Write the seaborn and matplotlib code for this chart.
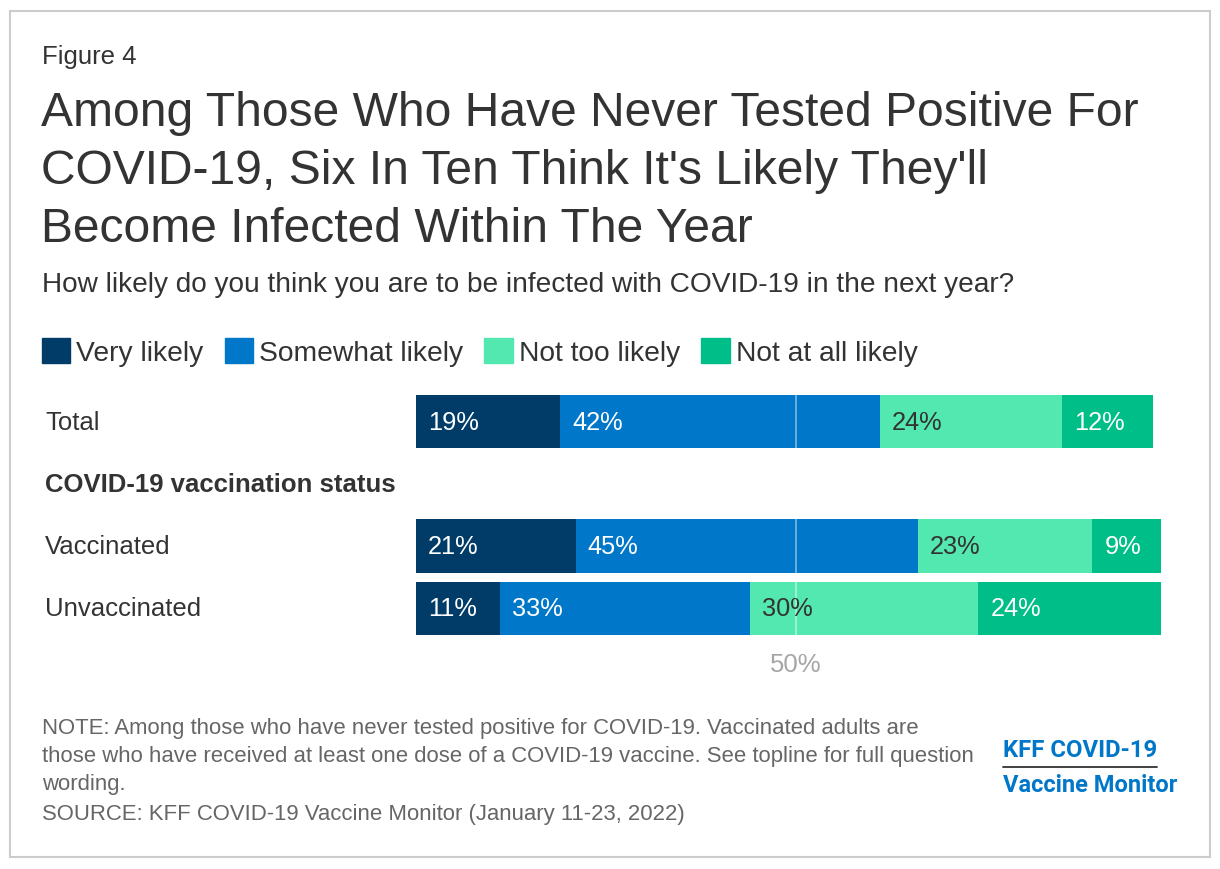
import numpy as np
import pandas as pd
import matplotlib
matplotlib.use('Agg')
import matplotlib.pyplot as plt
import matplotlib.patches as mpatches
import matplotlib.transforms as mtransforms
import seaborn as sns

groups = ['Total', 'COVID-19 vaccination status', 'Vaccinated', 'Unvaccinated']
responses = ['Very likely', 'Somewhat likely', 'Not too likely', 'Not at all likely']
very_likely = [19, 21, 11]
somewhat_likely = [42, 45, 33]
not_too_likely = [24, 23, 30]
not_at_all_likely = [12, 9, 24]
bar_groups = ['Total', 'Vaccinated', 'Unvaccinated']

colors = ['#003C67', '#0077C8', '#52E8B0', '#00BE87']
label_colors = ['white', 'white', '#333333', 'white']

df = pd.DataFrame({
    'group': bar_groups * 4,
    'response': np.repeat(responses, 3),
    'pct': very_likely + somewhat_likely + not_too_likely + not_at_all_likely,
})
df['cum'] = df.groupby('group')['pct'].cumsum()
df['left'] = df['cum'] - df['pct']

sns.set_style('white')
plt.rcParams['font.family'] = ['Liberation Sans', 'DejaVu Sans']

W, H = 1220, 870
fig = plt.figure(figsize=(W / 100, H / 100), dpi=100)
ax = fig.add_axes([416 / W, 1 - 636 / H, 760 / W, 240 / H])

# stacked bars: draw the longest cumulative first
for resp, col in reversed(list(zip(responses, colors))):
    sub = df[df['response'] == resp]
    sns.barplot(data=sub, x='cum', y='group', order=groups, orient='h',
                color=col, saturation=1, width=0.86, errorbar=None,
                linewidth=0, ax=ax)

for _, row in df.iterrows():
    i = responses.index(row['response'])
    ax.annotate(f"{row['pct']}%", xy=(row['left'], groups.index(row['group'])),
                xytext=(8.6, 0), textcoords='offset points', va='center', ha='left',
                fontsize=18.3, color=label_colors[i], zorder=6)

ax.axvline(50, color='white', alpha=0.45, lw=1.3, zorder=5)
ax.set_xlim(0, 100)
ax.set_ylim(3.43, -0.43)
ax.set_xticks([50])
ax.set_xticklabels(['50%'], color='#a6a6a6', fontsize=18.5)
ax.tick_params(axis='x', length=0, pad=12)
ax.set_yticks([])
ax.set_xlabel('')
ax.set_ylabel('')
for s in ax.spines.values():
    s.set_visible(False)

trans = mtransforms.blended_transform_factory(fig.transFigure, ax.transData)
for i, g in enumerate(groups):
    ax.text(45 / W, i, g, transform=trans, va='center', ha='left',
            fontsize=18.5, color='#333333',
            fontweight='bold' if i == 1 else 'normal')

# titles
fig.text(42 / W, 1 - 57 / H, 'Figure 4', fontsize=18.5, color='#333333', va='center')
title_lines = ['Among Those Who Have Never Tested Positive For',
               "COVID-19, Six In Ten Think It's Likely They'll",
               'Become Infected Within The Year']
for k, line in enumerate(title_lines):
    fig.text(41 / W, 1 - (114 + 58 * k) / H, line, fontsize=34.6, color='#333333', va='center')
fig.text(42 / W, 1 - 285 / H, 'How likely do you think you are to be infected with COVID-19 in the next year?',
         fontsize=20.2, color='#333333', va='center')

handles = [mpatches.Patch(color=c, label=r) for r, c in zip(responses, colors)]
fig.legend(handles=handles, loc='center left', bbox_to_anchor=(42 / W, 1 - 353 / H),
           ncol=4, frameon=False, fontsize=20.3, handlelength=1.01, handleheight=1.01,
           handletextpad=0.21, columnspacing=0.75, borderpad=0, borderaxespad=0,
           labelcolor='#333333')

notes = ['NOTE: Among those who have never tested positive for COVID-19. Vaccinated adults are',
         'those who have received at least one dose of a COVID-19 vaccine. See topline for full question',
         'wording.',
         'SOURCE: KFF COVID-19 Vaccine Monitor (January 11-23, 2022)']
for line, y in zip(notes, [729, 757, 785, 815]):
    fig.text(42 / W, 1 - y / H, line, fontsize=15.95, color='#666666', va='center')

# logo
fig.text(1003 / W, 1 - 751 / H, 'KFF COVID-19', fontsize=17.2, color='#0077C8',
         fontweight='bold', family=['Roboto', 'DejaVu Sans'], va='center')
fig.text(1003 / W, 1 - 786 / H, 'Vaccine Monitor', fontsize=17, color='#0077C8',
         fontweight='bold', family=['Roboto', 'DejaVu Sans'], va='center')
fig.add_artist(plt.Line2D([1003 / W, 1157 / W], [1 - 768 / H, 1 - 768 / H],
                          color='#333333', lw=1.3, transform=fig.transFigure))

fig.add_artist(mpatches.Rectangle((10 / W, 12 / H), 1200 / W, 846 / H, fill=False,
                                  edgecolor='#cccccc', lw=1.5, transform=fig.transFigure))

fig.savefig('out.png', dpi=100)
